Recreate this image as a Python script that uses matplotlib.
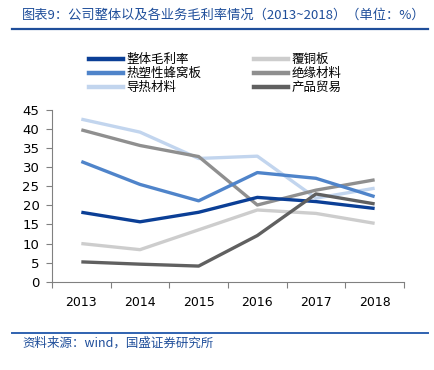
import matplotlib
matplotlib.use("Agg")
import matplotlib.pyplot as plt
from matplotlib.lines import Line2D

plt.rcParams['font.family'] = ['DejaVu Sans', 'Noto Sans CJK SC']

years = ["2013", "2014", "2015", "2016", "2017", "2018"]
overall = [18.2, 15.7, 18.2, 22.1, 21.0, 19.2]
ccl = [10.0, 8.4, 13.6, 18.8, 17.9, 15.3]
honeycomb = [31.5, 25.5, 21.2, 28.6, 27.1, 22.3]
insulation = [39.8, 35.7, 32.8, 20.1, 24.0, 26.7]
thermal = [42.6, 39.2, 32.3, 32.9, 21.9, 24.5]
trade = [5.2, 4.6, 4.1, 12.1, 23.0, 20.4]

names = ["整体毛利率", "覆铜板", "热塑性蜂窝板", "绝缘材料", "导热材料", "产品贸易"]
series = [overall, ccl, honeycomb, insulation, thermal, trade]
colors = ["#0B3F96", "#CDCDCD", "#4F84CA", "#8F8F8F", "#C2D5EE", "#606060"]
zorders = [6, 3, 5, 4, 2, 7]

fig = plt.figure(figsize=(4.34, 3.70), dpi=100)
ax = fig.add_axes([0.1198, 0.2386, 0.811, 0.4641])

x = list(range(len(years)))
handles = []
for s, c, n, z in zip(series, colors, names, zorders):
    ax.plot(x, s, color=c, lw=2.4, solid_capstyle='butt', zorder=z)
    handles.append(Line2D([0], [0], color=c, lw=3.2))

ax.set_xlim(-0.5, 5.5)
ax.set_ylim(0, 45)
ax.set_yticks(range(0, 46, 5))
ax.set_xticks([i - 0.5 for i in range(7)])
ax.set_xticklabels([])
ax.set_xticks(x, minor=True)
ax.set_xticklabels(years, minor=True, fontsize=9)
ax.tick_params(axis='x', which='minor', length=0, pad=10)
ax.tick_params(axis='x', which='major', length=4, color='#808080', width=0.8)
ax.tick_params(axis='y', length=4, color='#808080', width=0.8, labelsize=9.5, pad=5)
for sp in ['top', 'right']:
    ax.spines[sp].set_visible(False)
for sp in ['left', 'bottom']:
    ax.spines[sp].set_color('#808080')
    ax.spines[sp].set_linewidth(0.8)

cjk = ['Noto Sans CJK SC', 'DejaVu Sans']
# legend (two columns, row-wise order)
order = [0, 2, 4, 1, 3, 5]
leg = fig.legend([handles[i] for i in order], [names[i] for i in order], ncol=2,
                 loc='upper left', bbox_to_anchor=(0.205, 0.857), frameon=False,
                 prop={'family': cjk, 'size': 9}, handlelength=2.7,
                 handletextpad=0.3, columnspacing=4.2, labelspacing=0.08,
                 borderaxespad=0, borderpad=0)

fig.text(0.05, 0.96, "图表9：公司整体以及各业务毛利率情况（2013~2018）（单位：%）",
         family=cjk, fontsize=9.5, color='#1F4E9A', style='italic', va='center')
fig.add_artist(Line2D([0.028, 0.986], [0.921, 0.921], color='#1F4E9A', lw=1.6))
fig.add_artist(Line2D([0.028, 0.986], [0.1, 0.1], color='#2F62B0', lw=1.4))
fig.text(0.052, 0.073, "资料来源：wind，国盛证券研究所", family=cjk, fontsize=9,
         color='#1F4E9A', style='italic', va='center')

fig.savefig("out.png", dpi=100)
